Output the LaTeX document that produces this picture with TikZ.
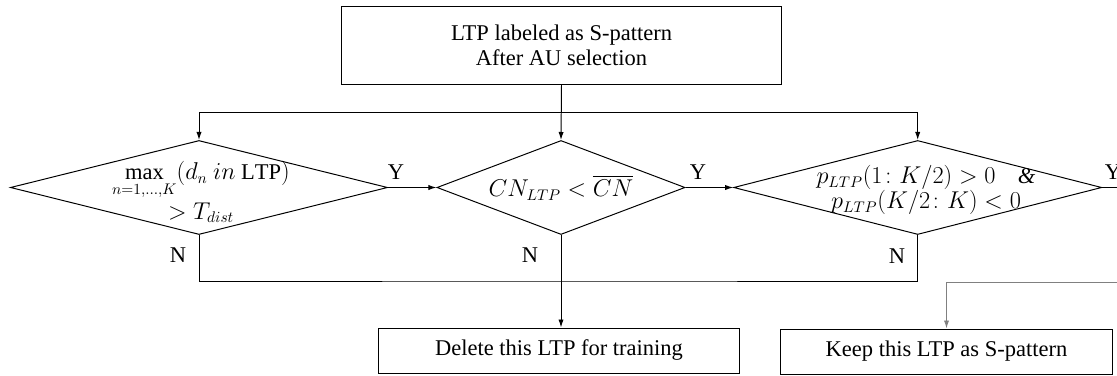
\documentclass[tikz,border=0pt]{standalone}
\usepackage{amsmath}
\usepackage{fontspec}
\setmainfont{Liberation Serif}
\usepackage{tikz}
\usetikzlibrary{arrows.meta,shapes.geometric}

\begin{document}
\begin{tikzpicture}[
        x=0.025cm, y=-0.025cm,
        >={Latex[length=2mm,width=1.3mm]},
        txt/.style={font=\fontsize{16}{18}\selectfont, align=center},
        box/.style={draw, line width=0.7pt, inner sep=0pt},
        cond/.style={draw, line width=0.7pt, diamond, inner sep=0pt, minimum height=2.35cm},
        link/.style={line width=0.7pt},
        graylink/.style={line width=0.7pt, gray},
        yn/.style={txt, inner sep=0pt}
    ]
        \useasboundingbox (0,0) rectangle (1117,375);
        \clip (0,0) rectangle (1117,375);

        % Start box
        \node[box, txt, minimum width=10.975cm, minimum height=1.925cm] (start) at (561.5,45.5)
            {LTP labeled as S-pattern\\After AU selection};

        % Three tests
        \node[cond, minimum width=9.425cm] (d1) at (199,187.5) {};
        \node[cond, minimum width=6.2cm] (d2) at (561,187.5) {};
        \node[cond, minimum width=9.2cm] (d3) at (917.7,187.5) {};
        \node[txt] (t1) at (201,192)
            {$\max\limits_{n=1,\dots,K}(d_n\ in\ \mathrm{LTP})$\\[1pt]$>T_{dist}$};
        \node[txt] (t2) at (561,188) {$CN_{LTP}<\overline{CN}$};
        \node[txt] (t3) at (926,190)
            {$p_{LTP}(1\colon K/2)>0$\quad\textit{\&}\\$p_{LTP}(K/2\colon K)<0$};

        % End boxes
        \node[box, txt, minimum width=9cm, minimum height=1.125cm] (del) at (559,350.5)
            {Delete this LTP for training};
        \node[box, txt, minimum width=8.275cm, minimum height=1.125cm] (keep) at (946.5,351.5)
            {Keep this LTP as S-pattern};

        % Split to the tests
        \coordinate (split) at (561,112.7);
        \draw[link,->] (start.south) -- (d2.north);
        \draw[link,->] (split) -| (d1.north);
        \draw[link,->] (split) -| (d3.north);

        % Y branches
        \coordinate (yout) at (1140,187.5);
        \draw[link,->] (d1.east) -- (d2.west);
        \draw[link,->] (d2.east) -- (d3.west);
        \draw[link] (d3.east) -- (yout);
        \node[yn] (y1) at (396,172) {Y};
        \node[yn] (y2) at (698,172) {Y};
        \node[yn] (y3) at (1113,172) {Y};

        % N branches
        \coordinate (join) at (561,281);
        \draw[link] (d1.south) |- (join) -| (d3.south);
        \draw[link] (d2.south) -- (join);
        \draw[link,->] (join) -- (join |- del.north);
        \node[yn] (n1) at (178,255) {N};
        \node[yn] (n2) at (530,255) {N};
        \node[yn] (n3) at (897,256) {N};

        % Back from the right
        \coordinate (kin) at (1140,282.3);
        \draw[graylink,->] (kin) -| (keep.north);
\end{tikzpicture}
\end{document}
